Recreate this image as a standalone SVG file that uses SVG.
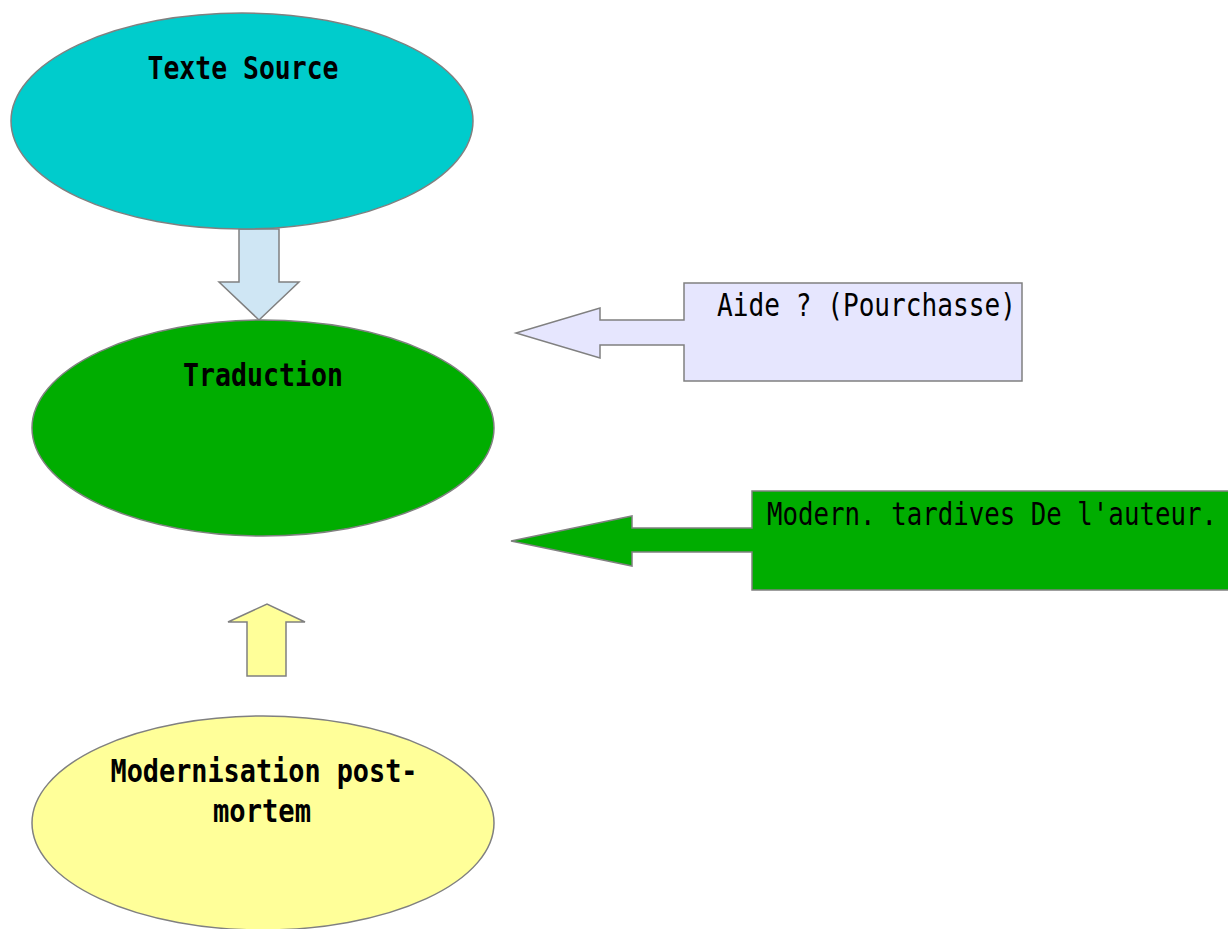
<svg xmlns="http://www.w3.org/2000/svg" width="1228" height="929" viewBox="0 0 1228 929">
<style>
.s{stroke:#808080;stroke-width:1.5}
.t{font-family:"DejaVu Sans Mono","Liberation Mono",monospace;font-size:32px;fill:#000}
.b{font-weight:bold;text-anchor:middle}
</style>
<rect width="1228" height="929" fill="#fff"/>
<g id="connectors">
<polygon class="s" fill="#cfe6f4" points="239,229 279,229 279,282 299,282 259,320 219,282 239,282"/>
<polygon class="s" fill="#ffff99" points="247,676 286,676 286,622 305,622 267,604 228,622 247,622"/>
</g>
<g id="texte-source">
<ellipse class="s" fill="#00cccc" cx="242" cy="121" rx="231" ry="108"/>
<text class="t b" x="243" y="79" textLength="191" lengthAdjust="spacingAndGlyphs">Texte Source</text>
</g>
<g id="traduction">
<ellipse class="s" fill="#00ad00" cx="263" cy="428" rx="231" ry="108"/>
<text class="t b" x="263" y="386" textLength="160" lengthAdjust="spacingAndGlyphs">Traduction</text>
</g>
<g id="modernisation">
<ellipse class="s" fill="#ffff99" cx="263" cy="823" rx="231" ry="107"/>
<text class="t b" x="264" y="782" textLength="307" lengthAdjust="spacingAndGlyphs">Modernisation post-</text>
<text class="t b" x="262" y="822" textLength="98" lengthAdjust="spacingAndGlyphs">mortem</text>
</g>
<g id="aide">
<polygon class="s" fill="#e6e6fe" points="684,283 1022,283 1022,381 684,381 684,345 600,345 600,358 516,333 600,308 600,320 684,320"/>
<text class="t" x="717" y="316" textLength="299" lengthAdjust="spacingAndGlyphs">Aide ? (Pourchasse)</text>
</g>
<g id="modern-tardives">
<polygon class="s" fill="#00ad00" points="752,491 1240,491 1240,590 752,590 752,552 632,552 632,566 511,541 632,516 632,528 752,528"/>
<text class="t" style="font-size:26px" transform="translate(767,525) scale(1,1.2)" x="0" y="0" textLength="450" lengthAdjust="spacingAndGlyphs">Modern. tardives De l'auteur.</text>
</g>
</svg>
